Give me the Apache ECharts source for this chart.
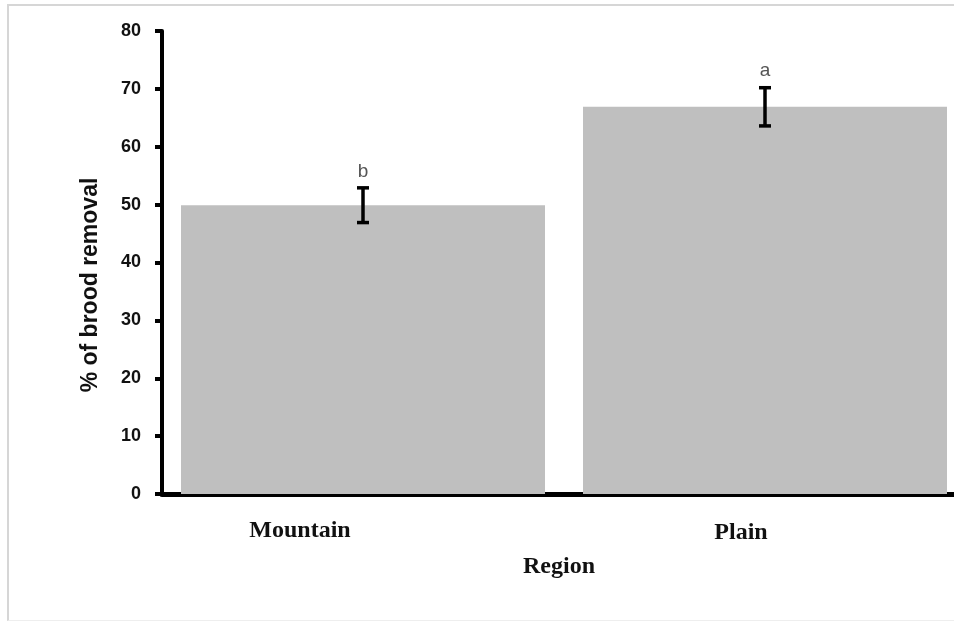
<!DOCTYPE html>
<html>
<head>
<meta charset="utf-8">
<script src="https://cdn.jsdelivr.net/npm/echarts@6/dist/echarts.min.js"></script>
<style>
  html, body { margin: 0; padding: 0; background: #fff; }
  #chart { width: 954px; height: 622px; }
  #frame {
    position: absolute; left: 7px; top: 4px; width: 960px; height: 614px;
    border-top: 2px solid #d6d6d6; border-left: 2px solid #d6d6d6; border-bottom: 1px solid #eee;
    pointer-events: none;
  }
</style>
</head>
<body>
<div id="chart"></div>
<div id="frame"></div>
<script>
// data
const regions = ['Mountain', 'Plain']
const means = [49.9, 66.9]
const errors = [3.0, 3.3]
const letters = ['b', 'a']
const yMin = 0
const yMax = 80
const yStep = 10

const chart = echarts.init(document.getElementById('chart'))

const option = {
  backgroundColor: '#fff',
  animation: false,
  grid: {
    left: 162,
    top: 31,
    bottom: 128,
    width: 804,
    outerBoundsMode: 'none'
  },
  xAxis: {
    type: 'category',
    data: regions,
    name: 'Region',
    nameLocation: 'middle',
    nameGap: 61,
    nameTextStyle: {
      fontFamily: 'Liberation Serif',
      fontWeight: 'bold',
      fontSize: 24,
      color: '#111',
      padding: [0, 10, 0, 0]
    },
    axisLine: { lineStyle: { color: '#000', width: 5 } },
    axisTick: { show: false },
    axisLabel: {
      margin: 25,
      interval: 0,
      formatter: function (v) {
        return v === 'Mountain' ? '{m|' + v + '}' : '{p|' + v + '}'
      },
      rich: {
        m: { fontFamily: 'Liberation Serif', fontWeight: 'bold', fontSize: 24, color: '#111', padding: [0, 126, 0, 0] },
        p: { fontFamily: 'Liberation Serif', fontWeight: 'bold', fontSize: 24, color: '#111', padding: [2, 48, 0, 0] }
      }
    }
  },
  yAxis: {
    type: 'value',
    min: yMin,
    max: yMax,
    interval: yStep,
    name: '% of brood removal',
    nameLocation: 'middle',
    nameGap: 60,
    nameTextStyle: {
      fontFamily: 'Liberation Sans',
      fontWeight: 'bold',
      fontSize: 23,
      color: '#111',
      padding: [0, 45, 0, 0]
    },
    splitLine: { show: false },
    axisLine: { show: true, lineStyle: { color: '#000', width: 4 } },
    axisTick: { show: true, length: 7, lineStyle: { color: '#000', width: 4 } },
    axisLabel: {
      margin: 21,
      fontFamily: 'Liberation Sans',
      fontWeight: 'bold',
      fontSize: 18,
      color: '#111'
    }
  },
  series: [
    {
      type: 'bar',
      data: means,
      barWidth: 364,
      itemStyle: { color: '#bfbfbf' },
      z: 1
    },
    {
      type: 'custom',
      z: 5,
      data: means.map((m, i) => [i, m - errors[i], m + errors[i]]),
      renderItem: function (params, api) {
        const x = api.coord([api.value(0), 0])[0]
        const lo = api.coord([api.value(0), api.value(1)])[1]
        const hi = api.coord([api.value(0), api.value(2)])[1]
        const cap = 6
        const style = { stroke: '#000', lineWidth: 3.5 }
        return {
          type: 'group',
          children: [
            { type: 'line', shape: { x1: x, y1: hi, x2: x, y2: lo }, style: style },
            { type: 'line', shape: { x1: x - cap, y1: hi, x2: x + cap, y2: hi }, style: style },
            { type: 'line', shape: { x1: x - cap, y1: lo, x2: x + cap, y2: lo }, style: style },
            {
              type: 'text',
              style: {
                text: letters[params.dataIndex],
                x: x,
                y: hi - 7,
                align: 'center',
                verticalAlign: 'bottom',
                fontFamily: 'Liberation Sans',
                fontSize: 19,
                fill: '#555'
              }
            }
          ]
        }
      }
    }
  ]
}

chart.setOption(option)
</script>
</body>
</html>
